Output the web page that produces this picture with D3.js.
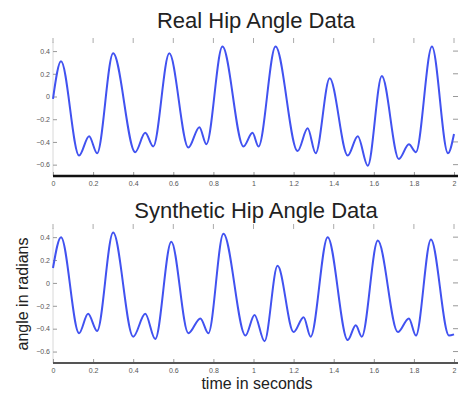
<!DOCTYPE html>
<html>
<head>
<meta charset="utf-8">
<script src="https://cdn.jsdelivr.net/npm/d3@7/dist/d3.min.js"></script>
<style>
  html, body { margin: 0; padding: 0; background: #fff; }
  svg { display: block; font-family: "Liberation Sans", Arial, sans-serif; }
</style>
</head>
<body>
<svg id="chart" width="458" height="393"></svg>
<script>
// Time (s) and hip angle (rad) samples for the two gait recordings
const realTime  = [0, 0.04, 0.13, 0.18, 0.22, 0.30, 0.41, 0.46, 0.50, 0.58, 0.675, 0.73, 0.765, 0.845, 0.95, 0.995, 1.025, 1.11, 1.22, 1.27, 1.31, 1.38, 1.47, 1.52, 1.57, 1.64, 1.725, 1.775, 1.81, 1.89, 1.97, 2.0];
const realAngle = [-0.02, 0.31, -0.52, -0.35, -0.50, 0.38, -0.49, -0.32, -0.44, 0.38, -0.45, -0.27, -0.42, 0.44, -0.44, -0.32, -0.44, 0.44, -0.48, -0.28, -0.50, 0.16, -0.52, -0.35, -0.61, 0.18, -0.55, -0.42, -0.49, 0.44, -0.50, -0.33];

const synthTime  = [0, 0.04, 0.13, 0.175, 0.22, 0.30, 0.40, 0.46, 0.51, 0.59, 0.675, 0.735, 0.775, 0.85, 0.96, 1.005, 1.055, 1.12, 1.20, 1.25, 1.285, 1.37, 1.47, 1.51, 1.54, 1.62, 1.72, 1.775, 1.81, 1.885, 1.975, 2.0];
const synthAngle = [0.13, 0.40, -0.44, -0.27, -0.42, 0.44, -0.47, -0.27, -0.49, 0.36, -0.44, -0.31, -0.44, 0.43, -0.46, -0.28, -0.51, 0.15, -0.43, -0.30, -0.47, 0.40, -0.50, -0.37, -0.47, 0.37, -0.43, -0.31, -0.46, 0.38, -0.46, -0.45];

const xTicks = [0, 0.2, 0.4, 0.6, 0.8, 1, 1.2, 1.4, 1.6, 1.8, 2];
const yTicks = [0.4, 0.2, 0, -0.2, -0.4, -0.6];
const titles = ["Real Hip Angle Data", "Synthetic Hip Angle Data"];
const xLabel = "time in seconds";
const yLabel = "angle in radians";

const svg = d3.select("#chart");
const left = 53, right = 454;

const panels = [
  { title: titles[0], t: realTime,  v: realAngle,  top: 42,  bottom: 176, titleY: 28,  axisColor: "#111", axisWidth: 2.6 },
  { title: titles[1], t: synthTime, v: synthAngle, top: 228, bottom: 363, titleY: 218, axisColor: "#555", axisWidth: 2.2 }
];

panels.forEach(p => {
  const x = d3.scaleLinear().domain([0, 2]).range([left, right]);
  const y = d3.scaleLinear().domain([-0.7, 0.48]).range([p.bottom, p.top]);
  const g = svg.append("g");

  // title
  g.append("text")
    .attr("x", 256).attr("y", p.titleY)
    .attr("text-anchor", "middle")
    .attr("font-size", 22)
    .attr("fill", "#222")
    .text(p.title);

  // faint left frame
  g.append("line")
    .attr("x1", left).attr("x2", left)
    .attr("y1", p.top).attr("y2", p.bottom)
    .attr("stroke", "#d8d8d8").attr("stroke-width", 1);

  // top ticks (inward)
  g.selectAll(".tt").data(xTicks).enter().append("line")
    .attr("x1", d => x(d)).attr("x2", d => x(d))
    .attr("y1", p.top - 4).attr("y2", p.top + 1)
    .attr("stroke", "#aaa").attr("stroke-width", 1);

  // right-side ticks (inward)
  g.selectAll(".rt").data(yTicks).enter().append("line")
    .attr("x1", 453).attr("x2", 458)
    .attr("y1", d => y(d)).attr("y2", d => y(d))
    .attr("stroke", "#999").attr("stroke-width", 1);

  // bottom axis
  const xAxis = d3.axisBottom(x)
    .tickValues(xTicks)
    .tickSize(-4)
    .tickPadding(5)
    .tickFormat(d3.format("~g"));
  const xa = g.append("g")
    .attr("transform", `translate(0,${p.bottom})`)
    .call(xAxis);
  xa.select(".domain").remove();
  xa.selectAll(".tick line").attr("stroke", "#999");
  xa.selectAll(".tick text").attr("font-size", 7).attr("fill", "#555");
  g.append("line")
    .attr("x1", left).attr("x2", 458)
    .attr("y1", p.bottom).attr("y2", p.bottom)
    .attr("stroke", p.axisColor).attr("stroke-width", p.axisWidth);

  // left axis labels
  const yAxis = d3.axisLeft(y)
    .tickValues(yTicks)
    .tickSize(-4)
    .tickPadding(3)
    .tickFormat(d3.format("~g"));
  const ya = g.append("g")
    .attr("transform", `translate(${left},0)`)
    .call(yAxis);
  ya.select(".domain").remove();
  ya.selectAll(".tick line").attr("stroke", "#999");
  ya.selectAll(".tick text").attr("font-size", 7).attr("fill", "#555");

  // the angle trace
  const pts = p.t.map((t, i) => [t, p.v[i]]);
  const line = d3.line()
    .x(d => x(d[0]))
    .y(d => y(d[1]))
    .curve(d3.curveMonotoneX);
  g.append("path")
    .datum(pts)
    .attr("fill", "none")
    .attr("stroke", "#4152f0")
    .attr("stroke-width", 2)
    .attr("stroke-linejoin", "round")
    .attr("d", line);
});

// axis titles
svg.append("text")
  .attr("x", 257).attr("y", 389)
  .attr("text-anchor", "middle")
  .attr("font-size", 16)
  .attr("fill", "#222")
  .text(xLabel);

svg.append("text")
  .attr("transform", "translate(28,294) rotate(-90)")
  .attr("text-anchor", "middle")
  .attr("font-size", 16)
  .attr("fill", "#222")
  .text(yLabel);
</script>
</body>
</html>
